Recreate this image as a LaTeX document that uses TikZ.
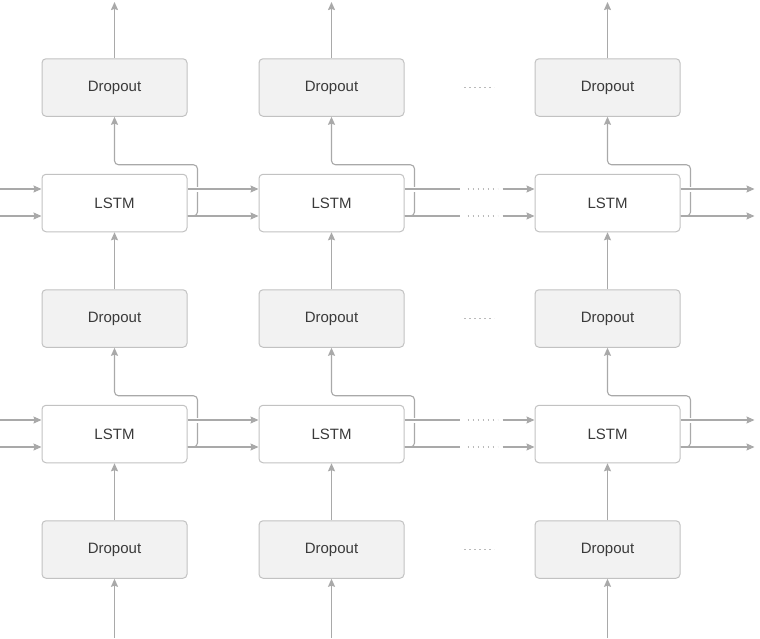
\documentclass[tikz,border=0pt]{standalone}
\usepackage{fontspec}
\setmainfont{Liberation Sans}
\usepackage{xcolor}
\usetikzlibrary{arrows.meta, positioning}

\definecolor{wiregray}{HTML}{A9A9A9}
\definecolor{boxline}{HTML}{C2C2C2}
\definecolor{boxfill}{HTML}{F2F2F2}
\definecolor{labeltext}{HTML}{3A3A3A}

\begin{document}
\begin{tikzpicture}[
    x=1pt, y=1pt,
    node distance=57pt and 71pt,
    drop/.style={draw=boxline, fill=boxfill, rounded corners=4pt,
                 minimum width=145pt, minimum height=57.5pt, line width=1pt,
                 text=labeltext, font=\fontsize{15}{18}\selectfont},
    cell/.style={drop, fill=white},
    wire/.style={draw=wiregray, line width=1.1pt},
    arrow/.style={wire, -{Stealth[length=8pt, width=7pt, inset=1pt]}},
    gap/.style={preaction={draw=white, line width=5pt, -,
                           shorten <=3pt, shorten >=3pt}},
    dots/.style={draw=wiregray!80, line width=1.6pt, dash pattern=on 1.6pt off 3.4pt},
]
    \useasboundingbox (0,0) rectangle (760,-638);

    % column a
    \node[drop] (d1a) at (114.5,-87.5) {Dropout};
    \node[cell, below=of d1a] (l1a) {LSTM};
    \node[drop, below=of l1a] (d2a) {Dropout};
    \node[cell, below=of d2a] (l2a) {LSTM};
    \node[drop, below=of l2a] (d3a) {Dropout};
    % column b
    \node[drop, right=of d1a] (d1b) {Dropout};
    \node[cell, right=of l1a] (l1b) {LSTM};
    \node[drop, right=of d2a] (d2b) {Dropout};
    \node[cell, right=of l2a] (l2b) {LSTM};
    \node[drop, right=of d3a] (d3b) {Dropout};
    % column c
    \node[drop, right=130pt of d1b] (d1c) {Dropout};
    \node[cell, right=130pt of l1b] (l1c) {LSTM};
    \node[drop, right=130pt of d2b] (d2c) {Dropout};
    \node[cell, right=130pt of l2b] (l2c) {LSTM};
    \node[drop, right=130pt of d3b] (d3c) {Dropout};

    % vertical flow
    \foreach \c in {a,b,c} {
        \coordinate (top\c) at (d1\c.north |- 0,-2);
        \coordinate (bot\c) at (d3\c.south |- 0,-638);
        \draw[arrow] (d1\c) -- (top\c);
        \draw[arrow] (d2\c) -- (l1\c);
        \draw[arrow] (d3\c) -- (l2\c);
        \draw[arrow] (bot\c) -- (d3\c);
    }

    % dots between columns b and c
    \foreach \r in {1,2,3} {
        \coordinate (dl\r) at ([xshift=59.5pt]d\r b.east);
        \coordinate (dr\r) at ([xshift=89.5pt]d\r b.east);
        \draw[dots] (dl\r) -- (dr\r);
    }

    % recurrent state lines
    \foreach \r in {1,2} {
        % branch up to the dropout above
        \foreach \c in {a,b,c}
            \draw[arrow, rounded corners=4pt] ([yshift=-13pt]l\r\c.east) -- ++(10,0)
                |- ([yshift=9pt]l\r\c.north) -- (d\r\c.south);
        % inputs from the left
        \coordinate (inu\r) at ([xshift=-42pt, yshift=14pt]l\r a.west);
        \coordinate (inl\r) at ([xshift=-42pt, yshift=-13pt]l\r a.west);
        \draw[arrow] (inu\r) -- ([yshift=14pt]l\r a.west);
        \draw[arrow] (inl\r) -- ([yshift=-13pt]l\r a.west);
        % a to b
        \draw[arrow, gap] ([yshift=14pt]l\r a.east) -- ([yshift=14pt]l\r b.west);
        \draw[arrow] ([yshift=-13pt]l\r a.east) -- ([yshift=-13pt]l\r b.west);
        % b to c, broken by dots
        \coordinate (ua\r) at ([xshift=55pt, yshift=14pt]l\r b.east);
        \coordinate (ub\r) at ([xshift=63pt, yshift=14pt]l\r b.east);
        \coordinate (uc\r) at ([xshift=93pt, yshift=14pt]l\r b.east);
        \coordinate (ud\r) at ([xshift=98pt, yshift=14pt]l\r b.east);
        \coordinate (la\r) at ([xshift=55pt, yshift=-13pt]l\r b.east);
        \coordinate (lb\r) at ([xshift=63pt, yshift=-13pt]l\r b.east);
        \coordinate (lc\r) at ([xshift=93pt, yshift=-13pt]l\r b.east);
        \coordinate (ld\r) at ([xshift=98pt, yshift=-13pt]l\r b.east);
        \draw[wire, gap] ([yshift=14pt]l\r b.east) -- (ua\r);
        \draw[dots] (ub\r) -- (uc\r);
        \draw[arrow] (ud\r) -- ([yshift=14pt]l\r c.west);
        \draw[wire] ([yshift=-13pt]l\r b.east) -- (la\r);
        \draw[dots] (lb\r) -- (lc\r);
        \draw[arrow] (ld\r) -- ([yshift=-13pt]l\r c.west);
        % outputs to the right
        \coordinate (outu\r) at ([xshift=74pt, yshift=14pt]l\r c.east);
        \coordinate (outl\r) at ([xshift=74pt, yshift=-13pt]l\r c.east);
        \draw[arrow, gap] ([yshift=14pt]l\r c.east) -- (outu\r);
        \draw[arrow] ([yshift=-13pt]l\r c.east) -- (outl\r);
    }
\end{tikzpicture}
\end{document}
